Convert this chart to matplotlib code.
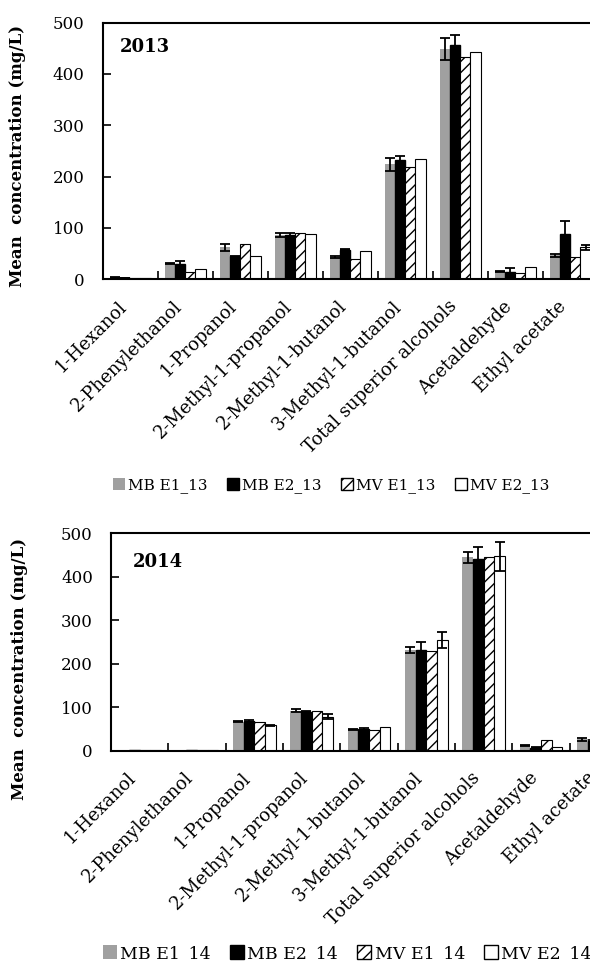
import numpy as np
import matplotlib
matplotlib.use("Agg")
import matplotlib.pyplot as plt
from matplotlib.patches import Patch

plt.rcParams["font.family"] = ["DejaVu Serif"]
plt.rcParams["hatch.linewidth"] = 1.0

compounds = ["1-Hexanol", "2-Phenylethanol", "1-Propanol", "2-Methyl-1-propanol",
             "2-Methyl-1-butanol", "3-Methyl-1-butanol", "Total superior alcohols",
             "Acetaldehyde", "Ethyl acetate"]

# 2013 means (mg/L) and error bars
mb_e1_13 = [3, 30, 62, 86, 44, 224, 449, 16, 47]
mb_e2_13 = [2, 30, 45, 87, 58, 233, 457, 14, 88]
mv_e1_13 = [2, 15, 68, 90, 40, 219, 434, 12, 43]
mv_e2_13 = [2, 20, 45, 88, 55, 234, 443, 23, 62]
err_mb_e1_13 = [0.5, 1, 7, 4, 2, 13, 22, 1, 3]
err_mb_e2_13 = [0.5, 6, 1, 3, 1, 8, 19, 8, 25]
err_mv_e1_13 = [0, 0, 0, 0, 0, 0, 0, 0, 0]
err_mv_e2_13 = [0, 0, 0, 0, 0, 0, 0, 0, 5]

# 2014 means (mg/L) and error bars
mb_e1_14 = [1, 1, 67, 92, 49, 231, 445, 12, 26]
mb_e2_14 = [1, 1, 68, 90, 49, 232, 441, 7, 22]
mv_e1_14 = [1, 1, 66, 91, 47, 229, 446, 24, 28]
mv_e2_14 = [1, 1, 58, 78, 54, 255, 447, 9, 24]
err_mb_e1_14 = [0, 0, 2, 4, 1, 7, 13, 1, 4]
err_mb_e2_14 = [0, 0, 3, 2, 2, 18, 27, 1, 2]
err_mv_e1_14 = [0, 0, 0, 0, 0, 0, 0, 0, 0]
err_mv_e2_14 = [0, 0, 2, 6, 0, 19, 33, 0, 2]

styles = [
    dict(color="#a0a0a0", edgecolor="none"),
    dict(color="black", edgecolor="black"),
    dict(color="white", edgecolor="black", hatch="///", linewidth=0.8),
    dict(color="white", edgecolor="black", linewidth=0.8),
]


def draw_panel(ax, series, errors):
    x = np.arange(len(compounds))
    width = 0.186
    offsets = (np.arange(4) - 1.5) * width
    for vals, errs, off, st in zip(series, errors, offsets, styles):
        ax.bar(x + off, vals, width, **st, zorder=2)
        errs = np.array(errs, dtype=float)
        mask = errs > 0
        ax.errorbar((x + off)[mask], np.array(vals)[mask], yerr=errs[mask],
                    fmt="none", ecolor="black", elinewidth=1.3, capsize=3.5,
                    capthick=1.3, zorder=3)
    ax.set_xlim(-0.5, len(compounds) - 0.5)
    ax.set_ylim(0, 500)
    ax.set_yticks(range(0, 501, 100))
    ax.set_xticks(x)
    ax.set_xticklabels(compounds, rotation=45, ha="right")
    ax.set_xticks(np.arange(0.5, len(compounds) - 0.5, 1), minor=True)
    ax.tick_params(axis="x", which="major", length=0, pad=13, labelsize=13)
    ax.tick_params(axis="x", which="minor", direction="in", length=6, width=1.2)
    ax.tick_params(axis="y", direction="in", length=6, width=1.2, labelsize=12, pad=13)
    for sp in ax.spines.values():
        sp.set_linewidth(1.5)


fig = plt.figure(figsize=(5.9, 9.61), dpi=100)

ax1 = fig.add_axes([0.174, 0.7094, 0.839, 0.267])
draw_panel(ax1, [mb_e1_13, mb_e2_13, mv_e1_13, mv_e2_13],
           [err_mb_e1_13, err_mb_e2_13, err_mv_e1_13, err_mv_e2_13])

ax2 = fig.add_axes([0.188, 0.2189, 0.875, 0.2262])
draw_panel(ax2, [mb_e1_14, mb_e2_14, mv_e1_14, mv_e2_14],
           [err_mb_e1_14, err_mb_e2_14, err_mv_e1_14, err_mv_e2_14])

fig.text(120 / 590, 0.9459, "2013", fontsize=13, fontweight="bold", va="baseline")
fig.text(133 / 590, 0.4103, "2014", fontsize=13, fontweight="bold", va="baseline")

fig.text(0.0305, 0.838, "Mean  concentration (mg/L)", rotation=90,
         fontsize=12, fontweight="bold", ha="center", va="center")
fig.text(0.0330, 0.3044, "Mean  concentration (mg/L)", rotation=90,
         fontsize=12, fontweight="bold", ha="center", va="center")


def legend_handles(suffix):
    labels = ["MB E1_", "MB E2_", "MV E1_", "MV E2_"]
    handles = []
    for lab, st in zip(labels, styles):
        kw = dict(st)
        kw.pop("linewidth", None)
        handles.append(Patch(facecolor=kw.pop("color"), label=lab + suffix,
                             linewidth=1.0, **kw))
    return handles


fig.legend(handles=legend_handles("13"), loc="center left",
           bbox_to_anchor=(113 / 590, 0.4943), ncol=4, frameon=False,
           fontsize=11, handlelength=0.8, handleheight=0.8,
           handletextpad=0.2, columnspacing=1.25, borderpad=0, borderaxespad=0)
fig.legend(handles=legend_handles("14"), loc="center left",
           bbox_to_anchor=(103 / 590, 0.0078), ncol=4, frameon=False,
           fontsize=12.5, handlelength=0.8, handleheight=0.8,
           handletextpad=0.2, columnspacing=1.1, borderpad=0, borderaxespad=0)

fig.savefig("out.png", dpi=100)
